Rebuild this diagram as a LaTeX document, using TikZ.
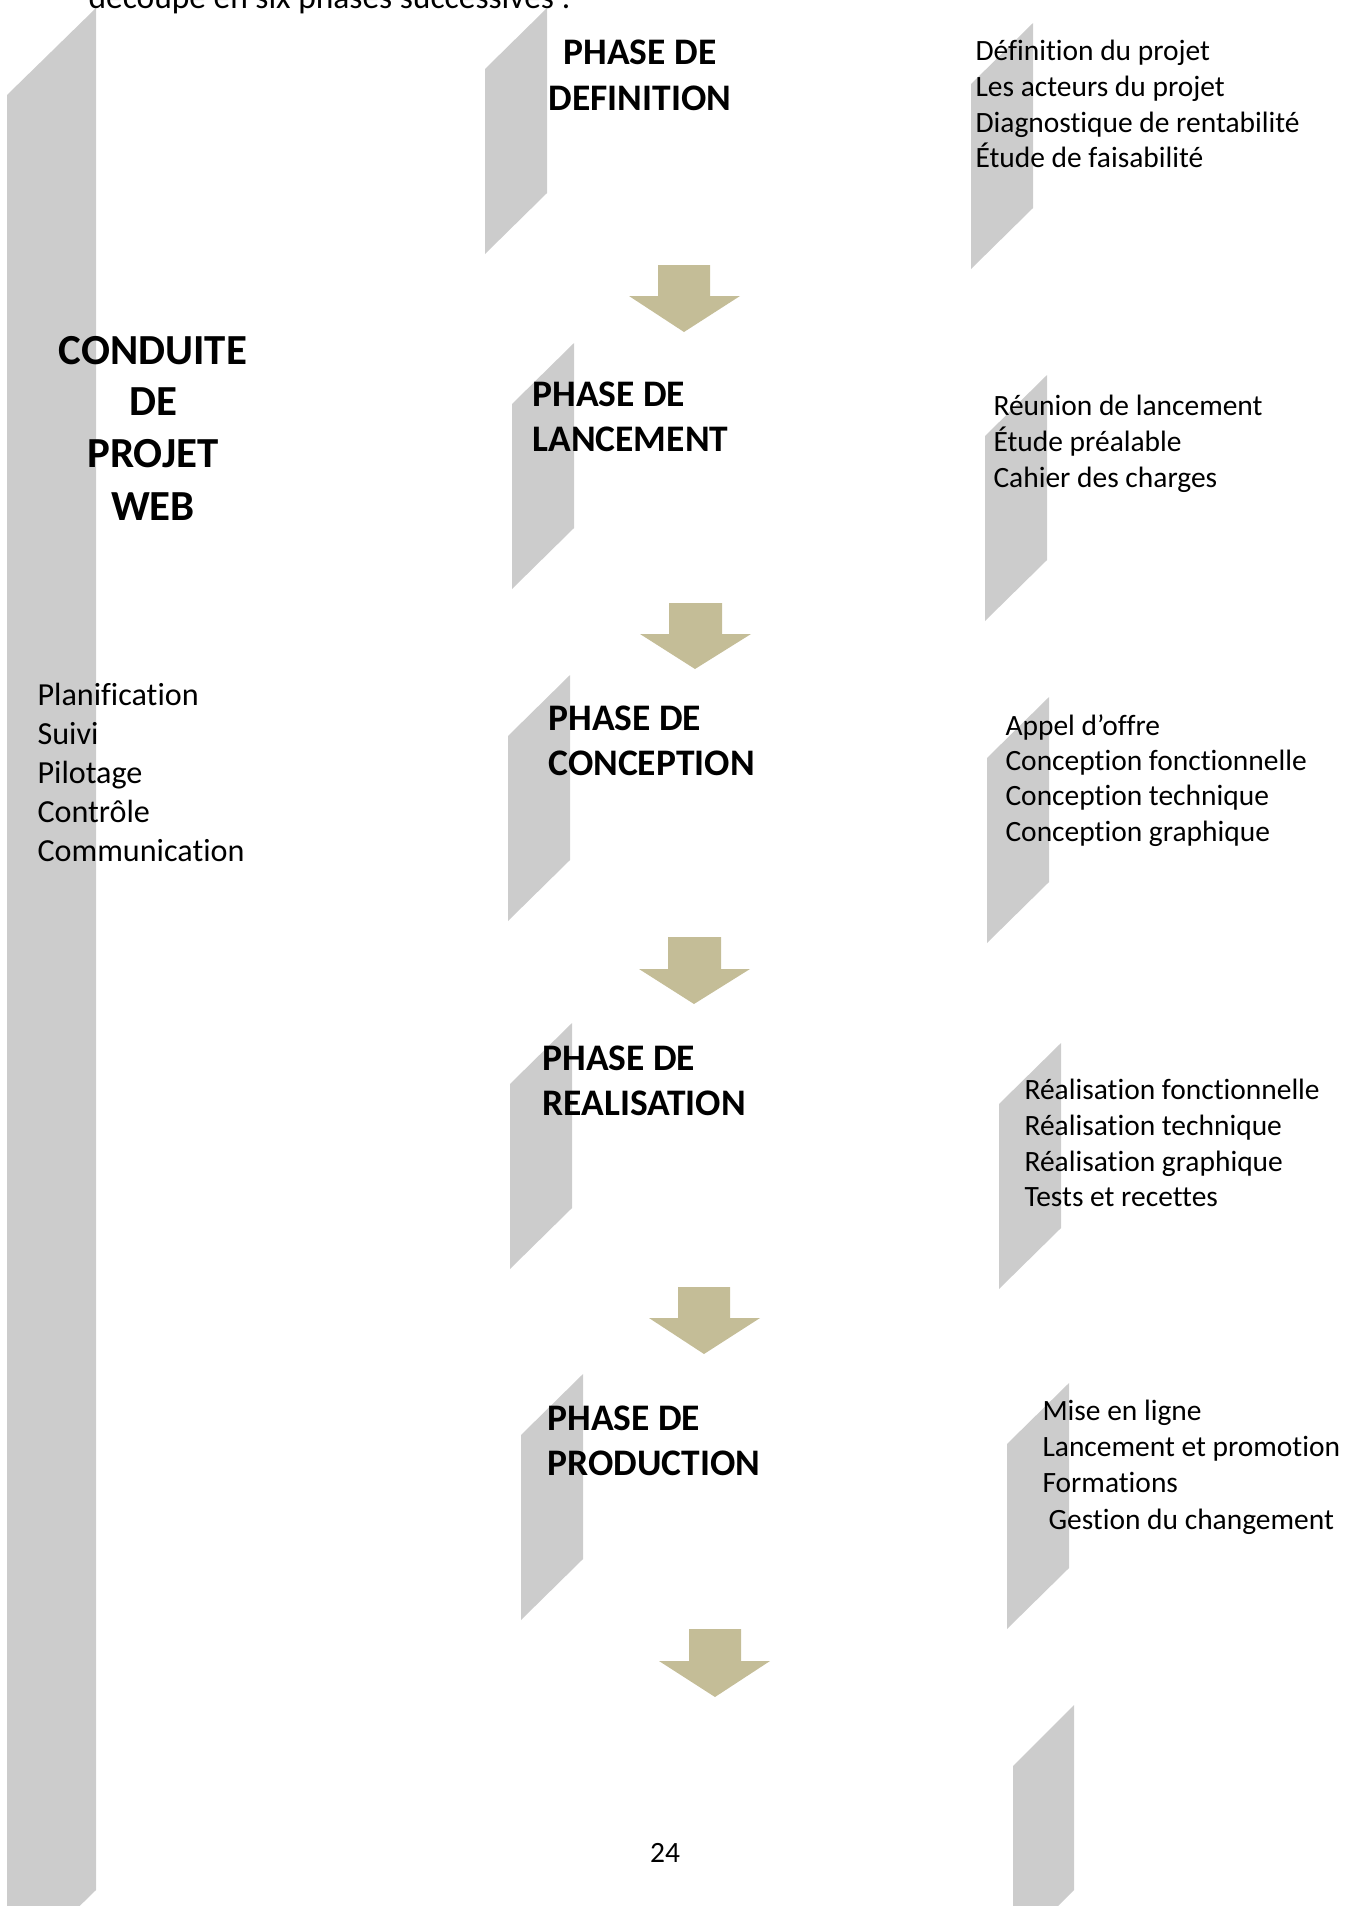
\documentclass[tikz,border=0pt]{standalone}
\usepackage{fontspec}
\setmainfont{Carlito}[Ligatures={NoCommon}]
\usetikzlibrary{positioning}

\definecolor{grisbande}{HTML}{CCCCCC}
\definecolor{beigefleche}{HTML}{C4BD97}

\tikzset{
  bande/.style={fill=grisbande, draw=none},
  fleche/.style={fill=beigefleche, draw=none},
  texte/.style={font=\fontsize{11}{13.5}\selectfont, text=black, inner sep=0pt},
  liste/.style={font=\fontsize{12}{14.5}\selectfont, text=black, inner sep=0pt},
  titre/.style={font=\fontsize{14}{17}\selectfont\bfseries, text=black, inner sep=0pt},
  grandtitre/.style={font=\fontsize{16}{19}\selectfont\bfseries, text=black, inner sep=0pt}
}

\begin{document}
\begin{tikzpicture}[x=0.3734pt, y=-0.3734pt]
\useasboundingbox (0,0) rectangle (1355,1906);
\clip (0,0) rectangle (1355,1906);

% bandes grises
\fill[bande] (7,95) -- (96,8) -- (96,1890) -- (7,1977) -- cycle;
\fill[bande] (485,69) -- ++(62,-61) -- ++(0,185) -- ++(-62,61) -- cycle;
\fill[bande] (512,404) -- ++(62,-61) -- ++(0,185) -- ++(-62,61) -- cycle;
\fill[bande] (508,736) -- ++(62,-61) -- ++(0,185) -- ++(-62,61) -- cycle;
\fill[bande] (510,1084) -- ++(62,-61) -- ++(0,185) -- ++(-62,61) -- cycle;
\fill[bande] (521,1435) -- ++(62,-61) -- ++(0,185) -- ++(-62,61) -- cycle;
\fill[bande] (971,84) -- ++(62,-61) -- ++(0,185) -- ++(-62,61) -- cycle;
\fill[bande] (985,436) -- ++(62,-61) -- ++(0,185) -- ++(-62,61) -- cycle;
\fill[bande] (987,758) -- ++(62,-61) -- ++(0,185) -- ++(-62,61) -- cycle;
\fill[bande] (999,1104) -- ++(62,-61) -- ++(0,185) -- ++(-62,61) -- cycle;
\fill[bande] (1007,1444) -- ++(62,-61) -- ++(0,185) -- ++(-62,61) -- cycle;
\fill[bande] (1013,1766) -- ++(61,-61) -- ++(0,185) -- ++(-61,61) -- cycle;

% fleches
\fill[fleche] (658,265) -- ++(52,0) -- ++(0,31) -- ++(30,0) -- (684,332) -- (629,296) -- (658,296) -- cycle;
\fill[fleche] (669,603) -- ++(53,0) -- ++(0,31) -- ++(29,0) -- (695,669) -- (640,634) -- (669,634) -- cycle;
\fill[fleche] (668,937) -- ++(53,0) -- ++(0,32) -- ++(29,0) -- (694,1004) -- (639,969) -- (668,969) -- cycle;
\fill[fleche] (678,1287) -- ++(52,0) -- ++(0,31) -- ++(30,0) -- (704,1354) -- (649,1318) -- (678,1318) -- cycle;
\fill[fleche] (689,1629) -- ++(52,0) -- ++(0,32) -- ++(29,0) -- (715,1697) -- (659,1661) -- (689,1661) -- cycle;

\node[font=\fontsize{12.5}{15}\selectfont, inner sep=0pt, anchor=base west] (intro) at (88,8) {découpé en six phases successives :};

% colonne de gauche
\node[grandtitre, anchor=base] (cond1) at (153,364) {CONDUITE};
\node[grandtitre, anchor=base] (cond2) at (153,415) {DE};
\node[grandtitre, anchor=base] (cond3) at (153,467) {PROJET};
\node[grandtitre, anchor=base] (cond4) at (153,520) {WEB};

\node[liste, anchor=base west] (g1) at (37,705) {Planification};
\node[liste, anchor=base west] (g2) at (37,744) {Suivi};
\node[liste, anchor=base west] (g3) at (37,783) {Pilotage};
\node[liste, anchor=base west] (g4) at (37,822) {Contrôle};
\node[liste, anchor=base west] (g5) at (37,861) {Communication};

% phases
\node[titre, anchor=base] (def1) at (640,64) {PHASE DE};
\node[titre, anchor=base] (def2) at (640,110) {DEFINITION};
\node[titre, anchor=base west] (lan1) at (532,406) {PHASE DE};
\node[titre, anchor=base west] (lan2) at (532,451) {LANCEMENT};
\node[titre, anchor=base west] (con1) at (548,730) {PHASE DE};
\node[titre, anchor=base west] (con2) at (548,775) {CONCEPTION};
\node[titre, anchor=base west] (rea1) at (542,1070) {PHASE DE};
\node[titre, anchor=base west] (rea2) at (542,1115) {REALISATION};
\node[titre, anchor=base west] (pro1) at (547,1430) {PHASE DE};
\node[titre, anchor=base west] (pro2) at (547,1475) {PRODUCTION};

% colonne de droite
\node[texte, anchor=base west] (d1) at (975,60) {Définition du projet};
\node[texte, anchor=base west] (d2) at (975,96) {Les acteurs du projet};
\node[texte, anchor=base west] (d3) at (975,132) {Diagnostique de rentabilité};
\node[texte, anchor=base west] (d4) at (975,167) {Étude de faisabilité};

\node[texte, anchor=base west] (l1) at (993,415) {Réunion de lancement};
\node[texte, anchor=base west] (l2) at (993,451) {Étude préalable};
\node[texte, anchor=base west] (l3) at (993,487) {Cahier des charges};

\node[texte, anchor=base west] (c1) at (1005,735) {Appel d’offre};
\node[texte, anchor=base west] (c2) at (1005,770) {Conception fonctionnelle};
\node[texte, anchor=base west] (c3) at (1005,805) {Conception technique};
\node[texte, anchor=base west] (c4) at (1005,841) {Conception graphique};

\node[texte, anchor=base west] (r1) at (1024,1099) {Réalisation fonctionnelle};
\node[texte, anchor=base west] (r2) at (1024,1135) {Réalisation technique};
\node[texte, anchor=base west] (r3) at (1024,1171) {Réalisation graphique};
\node[texte, anchor=base west] (r4) at (1024,1206) {Tests et recettes};

\node[texte, anchor=base west] (p1) at (1042,1420) {Mise en ligne};
\node[texte, anchor=base west] (p2) at (1042,1456) {Lancement et promotion};
\node[texte, anchor=base west] (p3) at (1042,1492) {Formations};
\node[texte, anchor=base west] (p4) at (1048,1529) {Gestion du changement};

\node[texte, anchor=base] (page) at (665,1862) {24};

\end{tikzpicture}
\end{document}
